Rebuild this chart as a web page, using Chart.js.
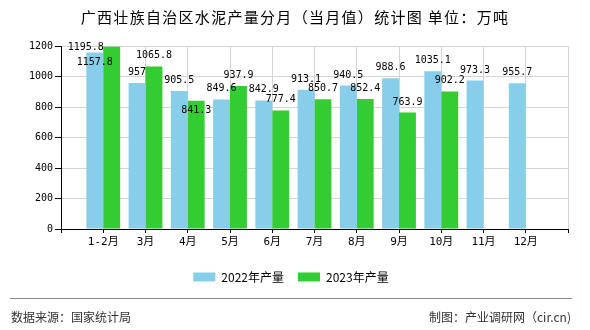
<!DOCTYPE html>
<html>
<head>
<meta charset="utf-8">
<script src="https://cdn.jsdelivr.net/npm/chart.js@4/dist/chart.umd.min.js"></script>
<style>
  html, body { margin: 0; padding: 0; background: #fff; }
  #wrap { position: relative; width: 590px; height: 330px; overflow: hidden; }
  #c { position: absolute; left: 0; top: 0; }
  #title { position: absolute; left: 0; top: 7px; width: 590px; text-align: center;
           font: 15px/20px "Noto Sans CJK SC", sans-serif; letter-spacing: 1.3px; color: #000; }
  #rule { position: absolute; left: 10px; top: 298px; width: 562px; height: 0; border-top: 1px solid #888; }
  .foot { position: absolute; top: 308px; font: 12px/17px "Noto Sans CJK SC", sans-serif; color: #333; }
  #src { left: 11px; }
  #by { right: 19px; }
</style>
</head>
<body>
<div id="wrap">
  <canvas id="c" width="590" height="330"></canvas>
  <div id="title">广西壮族自治区水泥产量分月（当月值）统计图 单位：万吨</div>
  <div id="rule"></div>
  <div class="foot" id="src">数据来源：国家统计局</div>
  <div class="foot" id="by">制图：产业调研网（cir.cn)</div>
</div>
<script>
// ---- data ----
const categories = ['1-2月', '3月', '4月', '5月', '6月', '7月', '8月', '9月', '10月', '11月', '12月'];
const series2022 = [1157.8, 957, 905.5, 849.6, 842.9, 913.1, 940.5, 988.6, 1035.1, 973.3, 955.7];
const series2023 = [1195.8, 1065.8, 841.3, 937.9, 777.4, 850.7, 852.4, 763.9, 902.2, null, null];
const seriesNames = ['2022年产量', '2023年产量'];
const yTicks = [0, 200, 400, 600, 800, 1000, 1200];

// empty slot at each end so groups sit on the grid lines
const labels = [''].concat(categories, ['']);
const pad = arr => [null].concat(arr, [null]);

// label nudges (pixel offsets relative to default position), keyed "dataset-index"
const labelNudges = { '0-0': [0, 21], '1-0': [-26, 11], '1-2': [0, 20] };

const valueLabels = {
  id: 'valueLabels',
  afterDatasetsDraw(chart) {
    const ctx = chart.ctx;
    ctx.save();
    ctx.font = '10px "DejaVu Sans Mono", monospace';
    ctx.fillStyle = '#000';
    ctx.textAlign = 'center';
    ctx.textBaseline = 'alphabetic';
    chart.data.datasets.forEach((ds, di) => {
      const meta = chart.getDatasetMeta(di);
      meta.data.forEach((el, i) => {
        const v = ds.data[i];
        if (v === null || v === undefined) return;
        const n = labelNudges[di + '-' + (i - 1)] || [0, 0];
        ctx.fillText(String(v), el.x + n[0], el.y - 8 + n[1]);
      });
    });
    ctx.restore();
  }
};

new Chart(document.getElementById('c'), {
  type: 'bar',
  data: {
    labels: labels,
    datasets: [
      { label: seriesNames[0], data: pad(series2022), backgroundColor: '#87CEEB', borderWidth: 0,
        categoryPercentage: 0.8, barPercentage: 1.0 },
      { label: seriesNames[1], data: pad(series2023), backgroundColor: '#33CC33', borderWidth: 0,
        categoryPercentage: 0.8, barPercentage: 1.0 }
    ]
  },
  options: {
    responsive: false,
    animation: false,
    devicePixelRatio: 1,
    layout: { padding: { left: 14, right: 22, top: 46, bottom: 37 } },
    plugins: {
      title: { display: false },
      tooltip: { enabled: false },
      legend: {
        display: true,
        position: 'bottom',
        labels: {
          boxWidth: 22, boxHeight: 9, padding: 14, color: '#000',
          font: { family: '"Noto Sans CJK SC", sans-serif', size: 12 }
        }
      }
    },
    scales: {
      x: {
        type: 'category',
        offset: false,
        grid: { display: true, offset: false, color: '#d4d4d4', tickColor: '#000', tickLength: 4, lineWidth: 1 },
        border: { display: true, color: '#000', width: 1 },
        ticks: { autoSkip: false, maxRotation: 0, minRotation: 0, padding: 3, color: '#000',
                 font: { family: '"DejaVu Sans Mono", "Noto Sans CJK SC", monospace', size: 11 } },
        afterFit(scale) { scale.height = 28; }
      },
      y: {
        min: 0, max: 1200,
        afterBuildTicks(scale) { scale.ticks = yTicks.map(v => ({ value: v })); },
        grid: { color: '#d4d4d4', tickColor: '#000', tickLength: 6, lineWidth: 1 },
        border: { display: true, color: '#000', width: 1 },
        ticks: { padding: 2, color: '#000', callback: v => String(v),
                 font: { family: '"DejaVu Sans Mono", monospace', size: 10 } },
        afterFit(scale) { scale.width = 47; }
      }
    }
  },
  plugins: [valueLabels]
});
</script>
</body>
</html>
